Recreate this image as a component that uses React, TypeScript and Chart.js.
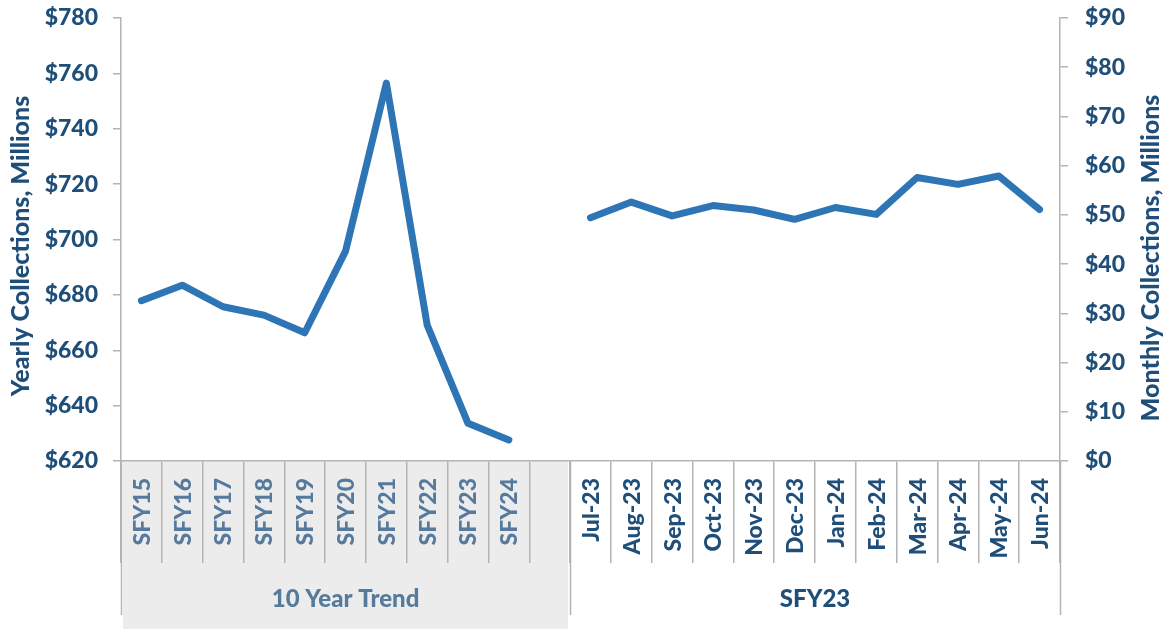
import React, { useEffect, useRef } from "react";
import { Chart, registerables } from "chart.js";

Chart.register(...registerables);

const yearLabels = ["SFY15", "SFY16", "SFY17", "SFY18", "SFY19", "SFY20", "SFY21", "SFY22", "SFY23", "SFY24"];
const yearlyValues = [677.9, 683.5, 675.7, 672.7, 666.3, 695.8, 756.5, 669.1, 633.6, 627.6];
const monthLabels = ["Jul-23", "Aug-23", "Sep-23", "Oct-23", "Nov-23", "Dec-23", "Jan-24", "Feb-24", "Mar-24", "Apr-24", "May-24", "Jun-24"];
const monthlyValues = [49.4, 52.6, 49.8, 51.9, 51.0, 49.1, 51.5, 50.1, 57.6, 56.2, 57.9, 51.1];
const groupLabels = ["10 Year Trend", "SFY23"];
const leftTitle = "Yearly Collections, Millions";
const rightTitle = "Monthly Collections, Millions";

const DARK = "#1f4e79";
const LIGHT = "#557a9c";
const LINE = "#2e75b6";
const GRID = "#b4b4b4";
const FONT = "Lato";
const W = "900";

export default function App() {
  const ref = useRef<HTMLCanvasElement | null>(null);

  useEffect(() => {
    document.body.style.margin = "0";
    const canvas = ref.current;
    if (!canvas) return;

    const labels = [...yearLabels, "", ...monthLabels];
    const yearlyData = [...yearlyValues, ...new Array(1 + monthLabels.length).fill(null)];
    const monthlyData = [...new Array(yearLabels.length + 1).fill(null), ...monthlyValues];

    const nYear = yearLabels.length;

    const decor = {
      id: "decor",
      beforeDraw(chart: any) {
        const ctx = chart.ctx;
        const x = chart.scales.x;
        const area = chart.chartArea;
        const step = x.getPixelForValue(1) - x.getPixelForValue(0);
        const xStart = x.getPixelForValue(0) - step / 2;
        const groupEnd = xStart + step * (nYear + 1);
        ctx.save();
        ctx.fillStyle = "#ececec";
        ctx.fillRect(xStart + 2, area.bottom, groupEnd - xStart - 4, chart.height - area.bottom);
        ctx.restore();
      },
      afterDraw(chart: any) {
        const ctx = chart.ctx;
        const x = chart.scales.x;
        const area = chart.chartArea;
        const step = x.getPixelForValue(1) - x.getPixelForValue(0);
        const xStart = x.getPixelForValue(0) - step / 2;
        const groupEnd = xStart + step * (nYear + 1);
        const xEnd = xStart + step * labels.length;
        ctx.save();
        ctx.strokeStyle = GRID;
        ctx.lineWidth = 1.5;
        [xStart, groupEnd, xEnd].forEach((px) => {
          ctx.beginPath();
          ctx.moveTo(Math.round(px) + 0.5, area.bottom);
          ctx.lineTo(Math.round(px) + 0.5, area.bottom + 154);
          ctx.stroke();
        });
        // category labels
        ctx.font = `${W} 23px ${FONT}`;
        ctx.textAlign = "right";
        ctx.textBaseline = "middle";
        labels.forEach((lab, i) => {
          if (!lab) return;
          const px = x.getPixelForValue(i);
          ctx.save();
          ctx.translate(px + 1, area.bottom + 17);
          ctx.rotate(-Math.PI / 2);
          ctx.fillStyle = i < nYear ? LIGHT : DARK;
          ctx.fillText(lab, 0, 0);
          ctx.restore();
        });
        // group labels
        ctx.textAlign = "center";
        ctx.font = `${W} 24px ${FONT}`;
        ctx.fillStyle = LIGHT;
        ctx.fillText(groupLabels[0], (xStart + groupEnd) / 2, area.bottom + 138);
        ctx.fillStyle = DARK;
        ctx.fillText(groupLabels[1], (groupEnd + xEnd) / 2, area.bottom + 138);
        // axis titles
        ctx.font = `${W} 25px ${FONT}`;
        ctx.fillStyle = DARK;
        ctx.textAlign = "center";
        ctx.save();
        ctx.translate(21, 246);
        ctx.rotate(-Math.PI / 2);
        ctx.fillText(leftTitle, 0, 0);
        ctx.restore();
        ctx.save();
        ctx.translate(1151, 258);
        ctx.rotate(-Math.PI / 2);
        ctx.fillText(rightTitle, 0, 0);
        ctx.restore();
        ctx.restore();
      },
    };

    const chart = new Chart(canvas, {
      type: "line",
      data: {
        labels,
        datasets: [
          {
            label: "Yearly",
            data: yearlyData,
            yAxisID: "y",
            borderColor: LINE,
            backgroundColor: LINE,
            borderWidth: 7,
            pointRadius: 0,
            borderCapStyle: "round",
            borderJoinStyle: "round",
            spanGaps: false,
          },
          {
            label: "Monthly",
            data: monthlyData,
            yAxisID: "y1",
            borderColor: LINE,
            backgroundColor: LINE,
            borderWidth: 7,
            pointRadius: 0,
            borderCapStyle: "round",
            borderJoinStyle: "round",
            spanGaps: false,
          },
        ],
      },
      options: {
        responsive: false,
        animation: false,
        layout: { padding: { top: 18, left: 0, right: 0, bottom: 0 } },
        plugins: { legend: { display: false }, tooltip: { enabled: false } },
        scales: {
          x: {
            type: "category",
            offset: true,
            grid: {
              offset: true,
              drawOnChartArea: false,
              drawTicks: true,
              tickLength: 102,
              color: GRID,
              lineWidth: 1.5,
            },
            border: { display: true, color: GRID, width: 1.5 },
            ticks: { display: false },
            afterFit(scale: any) {
              scale.height = 168;
              scale.paddingLeft = 0;
              scale.paddingRight = 0;
            },
          },
          y: {
            position: "left",
            min: 620,
            max: 780,
            ticks: {
              stepSize: 20,
              color: DARK,
              padding: 15,
              font: { family: FONT, size: 23, weight: W },
              callback: (v: any) => "$" + v,
            },
            grid: { drawOnChartArea: false, drawTicks: true, tickLength: 8, color: GRID, lineWidth: 1.5 },
            border: { display: true, color: GRID, width: 1.5 },
            afterFit(scale: any) {
              scale.width = 121;
              scale.paddingTop = 0;
              scale.paddingBottom = 0;
            },
          },
          y1: {
            position: "right",
            min: 0,
            max: 90,
            ticks: {
              stepSize: 10,
              color: DARK,
              padding: 17,
              font: { family: FONT, size: 23, weight: W },
              callback: (v: any) => "$" + v,
            },
            grid: { drawOnChartArea: false, drawTicks: true, tickLength: 8, color: GRID, lineWidth: 1.5 },
            border: { display: true, color: GRID, width: 1.5 },
            afterFit(scale: any) {
              scale.width = 107;
              scale.paddingTop = 0;
              scale.paddingBottom = 0;
            },
          },
        },
      },
      plugins: [decor],
    } as any);

    return () => chart.destroy();
  }, []);

  return (
    <div style={{ width: 1167, height: 629 }}>
      <canvas ref={ref} width={1167} height={629} style={{ display: "block" }} />
    </div>
  );
}
